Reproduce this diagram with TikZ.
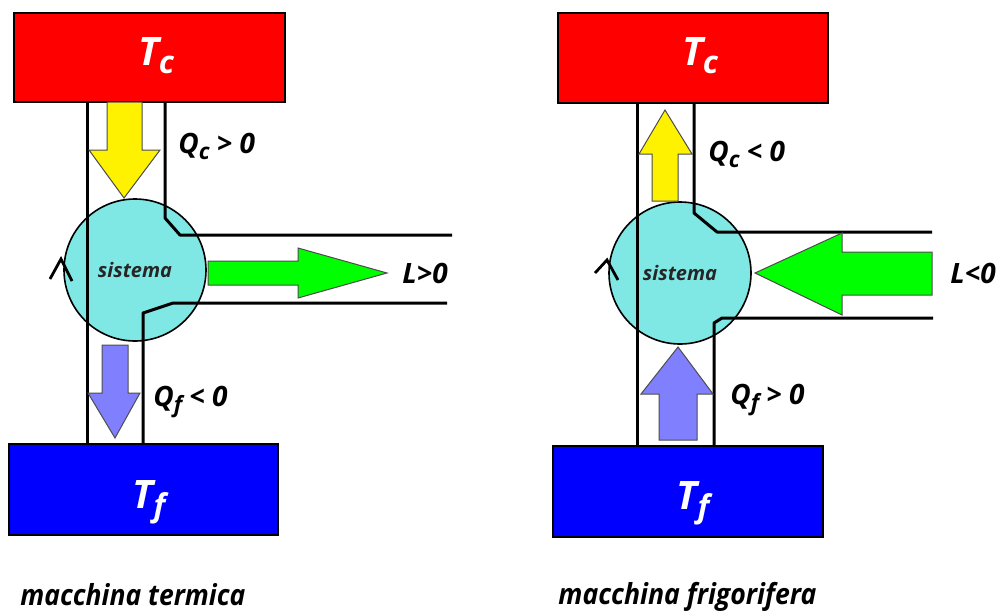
\documentclass[tikz,border=0pt]{standalone}
\usepackage{fontspec}
\usepackage{graphicx}
\setmainfont{Open Sans}
\newcommand{\lsub}[1]{\raisebox{-0.22em}{\scalebox{0.8}{#1}}}
\definecolor{syscol}{RGB}{128,232,228}
\definecolor{purp}{RGB}{128,128,255}
\begin{document}
\begin{tikzpicture}[x=0.5pt,y=-0.5pt,
  bath/.style={draw=black,line width=1.3pt},
  bathtxt/.style={text=white,font=\fontsize{19.6pt}{22pt}\selectfont\bfseries\itshape,inner sep=0pt,anchor=base},
  chan/.style={draw=black,line width=1.5pt,line join=round},
  flow/.style={draw=black!70,line width=0.5pt,line join=miter},
  sysnode/.style={circle,draw=black,line width=0.8pt,fill=syscol,minimum size=71pt,inner sep=0pt,font=\fontsize{10pt}{12pt}\selectfont\bfseries\itshape,text=black!85},
  lbl/.style={font=\fontsize{14pt}{16pt}\selectfont\bfseries\itshape,inner sep=0pt,anchor=base west},
  captxt/.style={font=\fontsize{14.5pt}{16pt}\selectfont\bfseries\itshape,inner sep=0pt,anchor=base west},
  chev/.style={draw=black,line width=1.4pt}
]
\useasboundingbox (0,0) rectangle (1000,611);

% ================= macchina termica =================
\draw[bath,fill=red] (14,13) rectangle (285,102);
\node[bathtxt] (tc1) at (156,65) {T\lsub{c}};
\draw[bath,fill=blue] (9,444) rectangle (278,535);
\node[bathtxt] (tf1) at (149,508) {T\lsub{f}};

\node[sysnode] (sys1) at (135,270) {sistema};

\draw[chan] (87,102) -- (87,444);
\draw[chan] (165,102) -- (165,218) -- (180,235) -- (452,235);
\draw[chan] (447,303) -- (173,303) -- (143,313) -- (143,444);

\draw[flow,fill=yellow] (107,102) -- (142,102) -- (142,150) -- (160,150) -- (124,198) -- (89,150) -- (107,150) -- cycle;
\draw[flow,fill=green] (208,261) -- (298,261) -- (298,248) -- (387,273) -- (298,298) -- (298,285) -- (208,285) -- cycle;
\draw[flow,fill=purp] (102,345) -- (128,345) -- (128,393) -- (140,393) -- (115,438) -- (88,393) -- (102,393) -- cycle;

\draw[chev] (50,279) -- (61,259) -- (72,281);

\node[lbl] (qc1) at (178,153) {Q\lsub{c} > 0};
\node[lbl] (l1) at (402,283) {L>0};
\node[lbl] (qf1) at (153,406) {Q\lsub{f} < 0};

\node[captxt] (cap1) at (20,605) {\resizebox{112.5pt}{\height}{macchina termica}};

% ================= macchina frigorifera =================
\draw[bath,fill=red] (558,13) rectangle (828,103);
\node[bathtxt] (tc2) at (700,65) {T\lsub{c}};
\draw[bath,fill=blue] (553,446) rectangle (823,537);
\node[bathtxt] (tf2) at (693,509) {T\lsub{f}};

\node[sysnode] (sys2) at (680,273) {sistema};

\draw[chan] (637,103) -- (637,446);
\draw[chan] (694,103) -- (694,213) -- (717,232) -- (932,232);
\draw[chan] (933,318) -- (722,318) -- (714,323) -- (714,446);

\draw[flow,fill=yellow] (652,201) -- (678,201) -- (678,154) -- (692,154) -- (665,110) -- (639,154) -- (652,154) -- cycle;
\draw[flow,fill=green] (932,252) -- (842,252) -- (842,233) -- (755,273) -- (842,315) -- (842,295) -- (932,295) -- cycle;
\draw[flow,fill=purp] (659,440) -- (697,440) -- (697,394) -- (713,394) -- (678,347) -- (641,394) -- (659,394) -- cycle;

\draw[chev] (595,273) -- (607,260) -- (618,280);

\node[lbl] (qc2) at (708,161) {Q\lsub{c} < 0};
\node[lbl] (l2) at (950,283) {L<0};
\node[lbl] (qf2) at (730,404) {Q\lsub{f} > 0};

\node[captxt] (cap2) at (558,604) {\resizebox{129pt}{\height}{macchina frigorifera}};
\end{tikzpicture}
\end{document}
